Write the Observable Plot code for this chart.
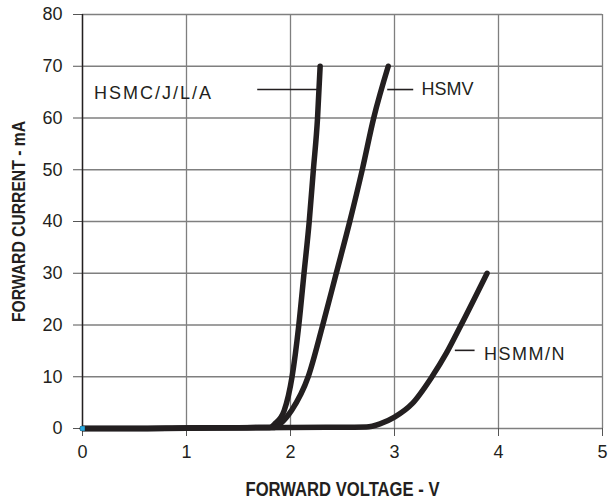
<!DOCTYPE html>
<html>
<head>
<meta charset="utf-8">
<script src="https://cdn.jsdelivr.net/npm/d3@7"></script>
<script src="https://cdn.jsdelivr.net/npm/@observablehq/plot@0.6"></script>
<style>
  html, body { margin: 0; padding: 0; background: #fff; }
  #chart { width: 609px; height: 502px; }
</style>
</head>
<body>
<div id="chart"></div>
<script>
// ---- data ----
const xTicks = [0, 1, 2, 3, 4, 5];
const yTicks = [0, 10, 20, 30, 40, 50, 60, 70, 80];

const seriesNames = ["HSMC/J/L/A", "HSMV", "HSMM/N"];

const voltageC = [0, 0.5, 1.0, 1.5, 1.80, 1.85, 1.94, 2.015, 2.08, 2.13, 2.18, 2.22, 2.26, 2.285];
const currentC = [0, 0, 0.1, 0.15, 0.2, 0.9, 3.5, 10, 20, 30, 40, 50, 60, 70];

const voltageV = [0, 0.5, 1.0, 1.5, 1.85, 1.90, 2.01, 2.17, 2.31, 2.44, 2.57, 2.69, 2.80, 2.94];
const currentV = [0, 0, 0.1, 0.15, 0.2, 0.9, 3.5, 10, 20, 30, 40, 50, 60, 70];

const voltageM = [0, 0.5, 1.0, 2.0, 2.5, 2.73, 2.86, 3.0, 3.17, 3.36, 3.50, 3.63, 3.89];
const currentM = [0, 0, 0.05, 0.2, 0.25, 0.3, 0.9, 2.2, 4.8, 10, 14.6, 19.6, 30];

// label annotations (data units): label start, leader line ends
const labelX = [0.11, 3.26, 3.86];
const labelY = [64.7, 65.6, 14.3];
const leaderX1 = [1.68, 2.93, 3.58];
const leaderX2 = [2.27, 3.18, 3.77];
const leaderY = [65.5, 65.5, 15.1];

const xTitle = "FORWARD VOLTAGE - V";
const yTitle = "FORWARD CURRENT - mA";
// title anchors (data units, outside the frame)
const xTitlePos = { x: 2.5, y: -11.9 };
const yTitlePos = { x: -0.615, y: 40 };

// ---- build tables ----
const toRows = (vs, cs, name) => vs.map((v, i) => ({ v, c: cs[i], name }));
const curves = [
  ...toRows(voltageC, currentC, seriesNames[0]),
  ...toRows(voltageV, currentV, seriesNames[1]),
  ...toRows(voltageM, currentM, seriesNames[2])
];
const labels = seriesNames.map((name, i) => ({ name, x: labelX[i], y: labelY[i] }));
const leaders = seriesNames.map((name, i) => ({ x1: leaderX1[i], x2: leaderX2[i], y: leaderY[i] }));

const ink = "#231f20";
const grid = "#7f7f7f";
const font = "'Liberation Sans', Arial, sans-serif";

const chart = Plot.plot({
  width: 609,
  height: 502,
  marginLeft: 82,
  marginRight: 7,
  marginTop: 14,
  marginBottom: 74,
  style: { fontFamily: font, fontSize: "18px", color: ink, background: "#fff" },
  x: { domain: [0, 5] },
  y: { domain: [0, 80] },
  marks: [
    Plot.gridX(xTicks, { stroke: grid, strokeOpacity: 1, strokeWidth: 1.3 }),
    Plot.gridY(yTicks, { stroke: grid, strokeOpacity: 1, strokeWidth: 1.3 }),
    Plot.axisX(xTicks, { tickSize: 8, tickPadding: 9, stroke: "#555", fill: ink, label: null, fontSize: 18 }),
    Plot.axisY(yTicks, { tickSize: 9, tickPadding: 11, stroke: "#555", fill: ink, label: null, fontSize: 18 }),
    Plot.ruleX([0], { stroke: ink, strokeWidth: 1.4, y1: 0, y2: 80 }),
    Plot.line(curves, { x: "v", y: "c", z: "name", stroke: ink, strokeWidth: 5.5, strokeLinejoin: "round", curve: "monotone-x" }),
    Plot.dot([{ v: 0, c: 0 }], { x: "v", y: "c", symbol: "square", r: 2.6, fill: "#27aae1", stroke: null }),
    Plot.link(leaders, { x1: "x1", x2: "x2", y1: "y", y2: "y", stroke: ink, strokeWidth: 1.6 }),
    Plot.text(labels, { x: "x", y: "y", text: "name", textAnchor: "start", lineAnchor: "middle", fill: ink, fontSize: 18 }),
    Plot.text([xTitle], { x: () => xTitlePos.x, y: () => xTitlePos.y, lineAnchor: "middle", fontWeight: "bold", fontSize: 20, fill: ink }),
    Plot.text([yTitle], { x: () => yTitlePos.x, y: () => yTitlePos.y, rotate: -90, lineAnchor: "middle", fontWeight: "bold", fontSize: 19, fill: ink })
  ]
});

// condensed titles and slightly wider tracking on the slash labels, as in the reference
d3.select(chart).selectAll("text").each(function () {
  const t = this.textContent;
  if (t === seriesNames[0]) this.setAttribute("letter-spacing", "2");
  if (t === seriesNames[2]) this.setAttribute("letter-spacing", "1.5");
  if (t === xTitle) { this.setAttribute("textLength", "194"); this.setAttribute("lengthAdjust", "spacingAndGlyphs"); }
  if (t === yTitle) { this.setAttribute("textLength", "201"); this.setAttribute("lengthAdjust", "spacingAndGlyphs"); }
});

document.getElementById("chart").appendChild(chart);
</script>
</body>
</html>
